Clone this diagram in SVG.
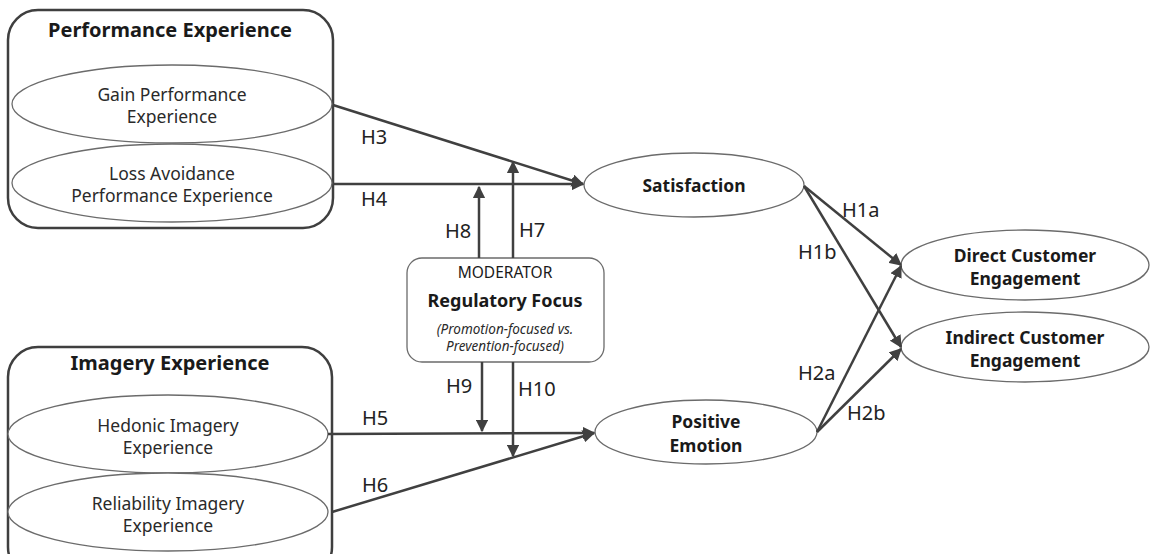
<svg xmlns="http://www.w3.org/2000/svg" width="1154" height="554" viewBox="0 0 1154 554">
<style>
text{font-family:"Noto Sans","Open Sans","DejaVu Sans",sans-serif;fill:#1a1a1a}
.grp{fill:#fff;stroke:#3f3f3f;stroke-width:2.5}
.ell{fill:#fff;stroke:#6b6b6b;stroke-width:1.3}
.t{font-size:17.5px;text-anchor:middle;fill:#2a2a2a}
.b{font-size:17.5px;font-weight:bold;text-anchor:middle}
.title{font-size:20px;font-weight:bold;text-anchor:middle}
.lab{font-size:20px;fill:#222}
.it{font-size:13.5px;font-style:italic;text-anchor:middle;fill:#2a2a2a}
.c{stroke:#404040;stroke-width:2.5;fill:none}
</style>
<defs>
<marker id="ah" viewBox="0 0 10 10" refX="9" refY="5" markerWidth="5" markerHeight="5" orient="auto" markerUnits="strokeWidth">
<path d="M0,0 L10,5 L0,10 z" fill="#404040"/>
</marker>
</defs>
<rect width="1154" height="554" fill="#fff"/>
<g id="performance-experience">
<rect class="grp" x="8" y="10" width="325" height="218" rx="30"/>
<text class="title" x="170" y="37">Performance Experience</text>
</g>
<g id="gain-performance">
<ellipse class="ell" cx="172" cy="104" rx="160" ry="39"/>
<text class="t" x="172" y="101">Gain Performance</text>
<text class="t" x="172" y="123">Experience</text>
</g>
<g id="loss-avoidance">
<ellipse class="ell" cx="172" cy="183" rx="160" ry="39"/>
<text class="t" x="172" y="180">Loss Avoidance</text>
<text class="t" x="172" y="202">Performance Experience</text>
</g>
<g id="imagery-experience">
<rect class="grp" x="8" y="347" width="324" height="230" rx="30"/>
<text class="title" x="170" y="370">Imagery Experience</text>
</g>
<g id="hedonic-imagery">
<ellipse class="ell" cx="168" cy="434" rx="160" ry="39"/>
<text class="t" x="168" y="432">Hedonic Imagery</text>
<text class="t" x="168" y="454">Experience</text>
</g>
<g id="reliability-imagery">
<ellipse class="ell" cx="168" cy="512" rx="160" ry="39"/>
<text class="t" x="168" y="510">Reliability Imagery</text>
<text class="t" x="168" y="532">Experience</text>
</g>
<g id="moderator">
<rect x="407" y="258" width="197" height="104" rx="15" fill="#fff" stroke="#6b6b6b" stroke-width="1.3"/>
<text x="505" y="278" font-size="15.5" text-anchor="middle" fill="#2a2a2a">MODERATOR</text>
<text x="505" y="307" font-size="18" font-weight="bold" text-anchor="middle">Regulatory Focus</text>
<text class="it" x="505" y="334">(Promotion-focused vs.</text>
<text class="it" x="505" y="351">Prevention-focused)</text>
</g>
<g id="satisfaction">
<ellipse class="ell" cx="694" cy="185" rx="110" ry="32"/>
<text class="b" x="694" y="192">Satisfaction</text>
</g>
<g id="positive-emotion">
<ellipse class="ell" cx="706" cy="432" rx="111" ry="32"/>
<text class="b" x="706" y="428">Positive</text>
<text class="b" x="706" y="452">Emotion</text>
</g>
<g id="direct-engagement">
<ellipse class="ell" cx="1025" cy="265" rx="124" ry="35"/>
<text class="b" x="1025" y="262">Direct Customer</text>
<text class="b" x="1025" y="285">Engagement</text>
</g>
<g id="indirect-engagement">
<ellipse class="ell" cx="1025" cy="347" rx="124" ry="35"/>
<text class="b" x="1025" y="344">Indirect Customer</text>
<text class="b" x="1025" y="367">Engagement</text>
</g>
<g id="connectors">
<line class="c" x1="333" y1="105" x2="583" y2="184" marker-end="url(#ah)"/>
<line class="c" x1="333" y1="184" x2="583" y2="184" marker-end="url(#ah)"/>
<line class="c" x1="328" y1="434" x2="594" y2="433" marker-end="url(#ah)"/>
<line class="c" x1="332" y1="512" x2="594" y2="433" marker-end="url(#ah)"/>
<line class="c" x1="479" y1="258" x2="479" y2="187" marker-end="url(#ah)"/>
<line class="c" x1="513" y1="258" x2="513" y2="162" marker-end="url(#ah)"/>
<line class="c" x1="482" y1="362" x2="482" y2="431" marker-end="url(#ah)"/>
<line class="c" x1="513" y1="362" x2="513" y2="456" marker-end="url(#ah)"/>
<line class="c" x1="804" y1="186" x2="901" y2="265" marker-end="url(#ah)"/>
<line class="c" x1="804" y1="186" x2="901" y2="347" marker-end="url(#ah)"/>
<line class="c" x1="817" y1="432" x2="901" y2="266" marker-end="url(#ah)"/>
<line class="c" x1="817" y1="432" x2="901" y2="349" marker-end="url(#ah)"/>
<text class="lab" x="361" y="144">H3</text>
<text class="lab" x="361" y="206">H4</text>
<text class="lab" x="445" y="238">H8</text>
<text class="lab" x="519" y="237">H7</text>
<text class="lab" x="446" y="393">H9</text>
<text class="lab" x="518" y="396">H10</text>
<text class="lab" x="362" y="425">H5</text>
<text class="lab" x="362" y="492">H6</text>
<text class="lab" x="842" y="217">H1a</text>
<text class="lab" x="798" y="259">H1b</text>
<text class="lab" x="798" y="380">H2a</text>
<text class="lab" x="847" y="420">H2b</text>
</g>
</svg>
